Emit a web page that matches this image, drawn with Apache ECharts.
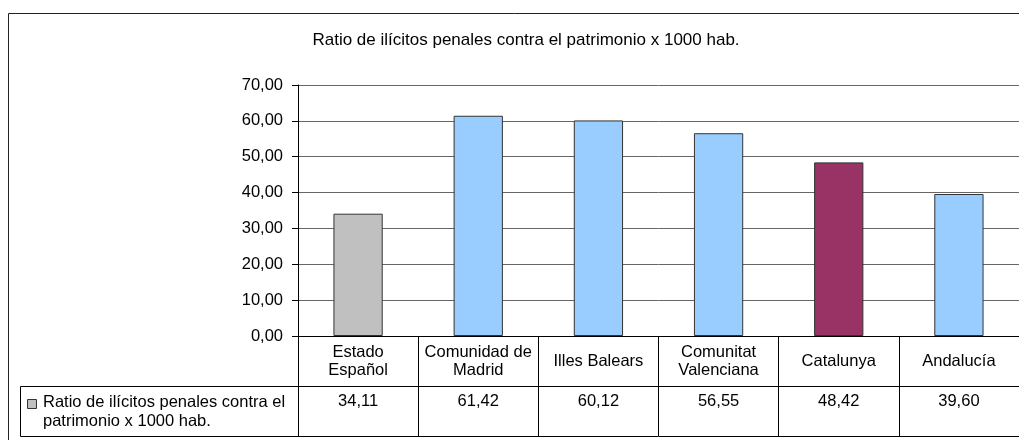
<!DOCTYPE html>
<html>
<head>
<meta charset="utf-8">
<script src="https://cdn.jsdelivr.net/npm/echarts@6/dist/echarts.min.js"></script>
<style>
  html, body { margin: 0; padding: 0; background: #fff; }
  #chart { width: 1019px; height: 440px; }
</style>
</head>
<body>
<div id="chart"></div>
<script>
// data
const categories = ['Estado\nEspañol', 'Comunidad de\nMadrid', 'Illes Balears', 'Comunitat\nValenciana', 'Catalunya', 'Andalucía'];
const values = [34.11, 61.42, 60.12, 56.55, 48.42, 39.60];
const barColors = ['#C0C0C0', '#99CCFF', '#99CCFF', '#99CCFF', '#993366', '#99CCFF'];
const yTicks = [0, 10, 20, 30, 40, 50, 60, 70];
const seriesName = 'Ratio de ilícitos penales contra el patrimonio x 1000 hab.';
const titleText = 'Ratio de ilícitos penales contra el patrimonio x 1000 hab.';

const FONT = "'Liberation Sans', Arial, sans-serif";
const fmt = v => v.toFixed(2).replace('.', ',');

const chart = echarts.init(document.getElementById('chart'));

chart.setOption({
  animation: false,
  title: {
    text: titleText,
    left: 521,
    top: 27,
    textAlign: 'center',
    textStyle: { fontFamily: FONT, fontSize: 17, fontWeight: 'normal', color: '#000' }
  },
  grid: { left: 298, top: 85, width: 726, height: 251 },
  xAxis: [
    {
      type: 'category',
      data: categories,
      axisLine: { lineStyle: { color: '#000', width: 1 } },
      axisTick: { show: true, length: 100, lineStyle: { color: '#000' } },
      axisLabel: {
        interval: 0, margin: 25, verticalAlign: 'middle',
        fontFamily: FONT, fontSize: 16.5, lineHeight: 18, color: '#000'
      }
    },
    {
      type: 'category',
      data: categories,
      position: 'bottom',
      offset: 50,
      axisLine: { show: true, lineStyle: { color: '#000', width: 1 } },
      axisTick: { show: false },
      axisLabel: {
        interval: 0, margin: 15, verticalAlign: 'middle',
        fontFamily: FONT, fontSize: 16.5, color: '#000',
        formatter: (v, i) => fmt(values[i])
      }
    },
    {
      type: 'category',
      data: categories,
      position: 'bottom',
      offset: 100,
      axisLine: { show: true, lineStyle: { color: '#000', width: 1 } },
      axisTick: { show: false },
      axisLabel: { show: false }
    }
  ],
  yAxis: {
    type: 'value',
    min: yTicks[0],
    max: yTicks[yTicks.length - 1],
    interval: yTicks[1] - yTicks[0],
    axisLine: { show: true, lineStyle: { color: '#000', width: 1 } },
    axisTick: { show: true, length: 6, lineStyle: { color: '#000' } },
    splitLine: { lineStyle: { color: '#666', width: 1 } },
    axisLabel: {
      margin: 15, fontFamily: FONT, fontSize: 16.5, color: '#000',
      formatter: v => fmt(v)
    }
  },
  series: [{
    name: seriesName,
    type: 'bar',
    barWidth: '41%',
    data: values.map((v, i) => ({ value: v, itemStyle: { color: barColors[i] } })),
    itemStyle: { borderColor: '#333', borderWidth: 1 }
  }],
  graphic: [
    // outer chart border (runs past the right and bottom edges)
    { type: 'rect', shape: { x: 8.5, y: 13.5, width: 1100, height: 500 },
      style: { fill: 'none', stroke: '#222', lineWidth: 1 }, silent: true },
    // legend cell of the data table
    { type: 'rect', shape: { x: 20.5, y: 386.5, width: 278, height: 50 },
      style: { fill: 'none', stroke: '#000', lineWidth: 1 }, silent: true },
    { type: 'rect', shape: { x: 27.5, y: 399.5, width: 9, height: 9 },
      style: { fill: barColors[0], stroke: '#333', lineWidth: 1 }, silent: true },
    { type: 'text', left: 43, top: 393,
      style: {
        text: 'Ratio de ilícitos penales contra el\npatrimonio x 1000 hab.',
        font: '16.5px ' + FONT, fill: '#000', lineHeight: 19
      }, silent: true }
  ]
});
</script>
</body>
</html>
